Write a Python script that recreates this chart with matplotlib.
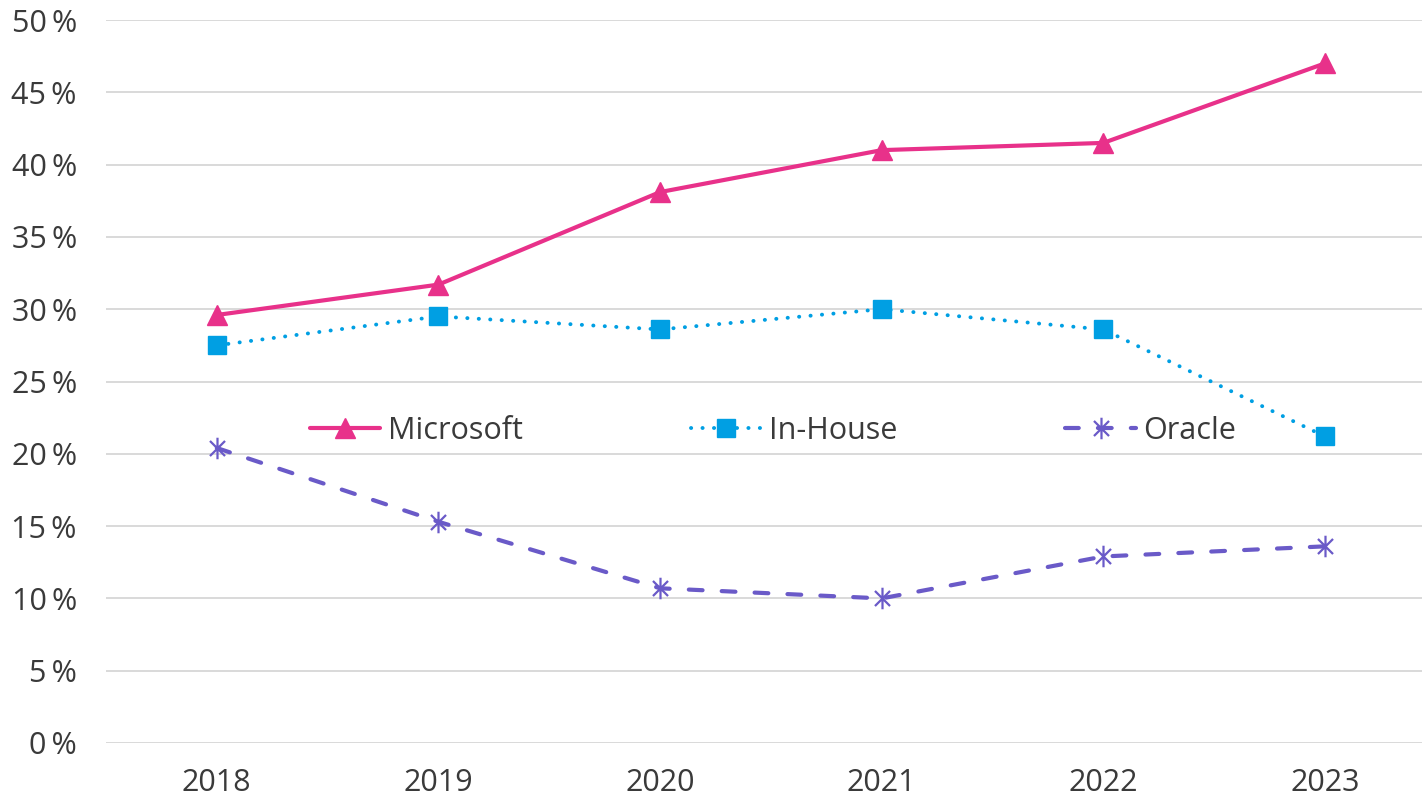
import matplotlib
matplotlib.use("Agg")
import matplotlib.pyplot as plt
from matplotlib.path import Path
from matplotlib.ticker import FuncFormatter

YEARS = ["2018", "2019", "2020", "2021", "2022", "2023"]
MICROSOFT = [29.6, 31.7, 38.1, 41.0, 41.5, 47.0]
IN_HOUSE = [27.5, 29.5, 28.6, 30.0, 28.6, 21.2]
ORACLE = [20.4, 15.3, 10.7, 10.0, 12.9, 13.6]

PINK = "#E8318A"
BLUE = "#009FE3"
PURPLE = "#6A5AC8"
TEXT = "#3A3A3A"

plt.rcParams['font.family'] = ['Open Sans', 'DejaVu Sans']

# asterisk: x plus a vertical bar, like the office star marker
STAR = Path(
    [(-0.7, -0.7), (0.7, 0.7), (-0.7, 0.7), (0.7, -0.7), (0, -1), (0, 1)],
    [Path.MOVETO, Path.LINETO, Path.MOVETO, Path.LINETO, Path.MOVETO, Path.LINETO],
)

fig = plt.figure(figsize=(14.22, 7.97), dpi=100)
ax = fig.add_axes([106 / 1422, 54 / 797, 1 - 106 / 1422, (743 - 20) / 797])

xs = list(range(len(YEARS)))
ax.plot(xs, MICROSOFT, color=PINK, lw=3.0, marker='^', markersize=14,
        label='Microsoft', zorder=5, solid_capstyle='round')
ax.plot(xs, IN_HOUSE, color=BLUE, lw=2.8, marker='s', markersize=12.5,
        dashes=(0.05, 2.9), dash_capstyle='round', label='In-House', zorder=5)
ax.plot(xs, ORACLE, color=PURPLE, lw=3.0, marker=STAR, markersize=15.5,
        markeredgewidth=1.6, dashes=(3.3, 4.6), dash_capstyle='round',
        label='Oracle', zorder=5)

ax.set_xlim(-0.5, 5.438)
ax.set_ylim(0, 50)
ax.set_yticks(range(0, 51, 5))
ax.yaxis.set_major_formatter(FuncFormatter(lambda v, _: f"{int(v)}\u2009%"))
ax.set_xticks(xs)
ax.set_xticklabels(YEARS)
ax.tick_params(axis='both', length=0, labelsize=22, colors=TEXT)
ax.tick_params(axis='y', pad=21)
ax.tick_params(axis='x', pad=18)
ax.grid(axis='y', color='#D9D9D9', lw=1.4)
ax.set_axisbelow(True)
for s in ax.spines.values():
    s.set_visible(False)

leg = ax.legend(loc='center', bbox_to_anchor=(0.507, 0.432), ncol=3,
                fontsize=22, frameon=False, handlelength=2.3,
                handletextpad=0.25, columnspacing=5.5)
for t in leg.get_texts():
    t.set_color(TEXT)

fig.savefig("out.png", dpi=100)
